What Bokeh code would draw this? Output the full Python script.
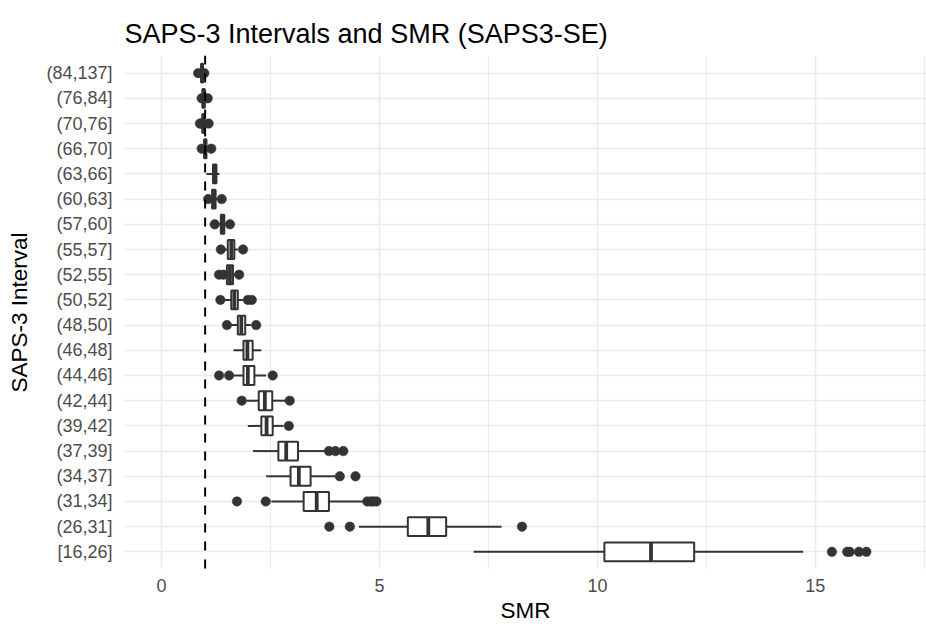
from bokeh.plotting import figure
from bokeh.models import ColumnDataSource, FactorRange, Range1d, Span, FixedTicker
from bokeh.embed import file_html
from bokeh.resources import INLINE

# Categories, top to bottom as shown
intervals = ["(84,137]", "(76,84]", "(70,76]", "(66,70]", "(63,66]", "(60,63]",
             "(57,60]", "(55,57]", "(52,55]", "(50,52]", "(48,50]", "(46,48]",
             "(44,46]", "(42,44]", "(39,42]", "(37,39]", "(34,37]", "(31,34]",
             "(26,31]", "[16,26]"]

lower_whisker = [0.89, 0.93, 0.92, 0.95, 1.03, 1.12, 1.30, 1.45, 1.45, 1.45,
                 1.60, 1.65, 1.65, 1.95, 1.98, 2.10, 2.40, 2.52, 4.53, 7.16]
q1 = [0.91, 0.94, 0.94, 0.98, 1.18, 1.16, 1.36, 1.52, 1.50, 1.60,
      1.75, 1.88, 1.88, 2.23, 2.29, 2.68, 2.96, 3.26, 5.65, 10.16]
median = [0.93, 0.965, 0.96, 1.00, 1.22, 1.20, 1.40, 1.60, 1.57, 1.67,
          1.83, 1.97, 1.98, 2.37, 2.41, 2.86, 3.15, 3.56, 6.12, 11.23]
q3 = [0.95, 0.99, 0.99, 1.03, 1.26, 1.24, 1.44, 1.67, 1.64, 1.75,
      1.92, 2.09, 2.13, 2.54, 2.55, 3.13, 3.42, 3.84, 6.53, 12.22]
upper_whisker = [0.96, 1.01, 1.03, 1.08, 1.33, 1.30, 1.50, 1.75, 1.70, 1.88,
                 2.05, 2.29, 2.40, 2.85, 2.80, 3.76, 3.99, 4.64, 7.80, 14.72]

outlier_interval = ["(84,137]", "(84,137]",
                    "(76,84]", "(76,84]",
                    "(70,76]", "(70,76]", "(70,76]",
                    "(66,70]", "(66,70]",
                    "(60,63]", "(60,63]",
                    "(57,60]", "(57,60]",
                    "(55,57]", "(55,57]",
                    "(52,55]", "(52,55]", "(52,55]",
                    "(50,52]", "(50,52]", "(50,52]",
                    "(48,50]", "(48,50]",
                    "(44,46]", "(44,46]", "(44,46]",
                    "(42,44]", "(42,44]",
                    "(39,42]",
                    "(37,39]", "(37,39]", "(37,39]",
                    "(34,37]", "(34,37]",
                    "(31,34]", "(31,34]", "(31,34]", "(31,34]", "(31,34]", "(31,34]",
                    "(26,31]", "(26,31]", "(26,31]",
                    "[16,26]", "[16,26]", "[16,26]", "[16,26]", "[16,26]"]
outlier_smr = [0.84, 0.98,
               0.92, 1.06,
               0.88, 0.91, 1.08,
               0.92, 1.14,
               1.07, 1.38,
               1.22, 1.57,
               1.36, 1.87,
               1.32, 1.42, 1.78,
               1.35, 1.98, 2.07,
               1.50, 2.17,
               1.32, 1.55, 2.55,
               1.84, 2.94,
               2.92,
               3.84, 3.99, 4.17,
               4.09, 4.45,
               1.73, 2.39, 4.72, 4.80, 4.86, 4.93,
               3.85, 4.32, 8.27,
               15.38, 15.73, 15.79, 16.00, 16.17]

reference_smr = 1.0
x_ticks = [0, 5, 10, 15]
x_minor_ticks = [2.5, 7.5, 12.5, 17.5]

FONT = "Liberation Sans"
DARK = "#333333"
GRID = "#EBEBEB"

box_src = ColumnDataSource(dict(interval=intervals, lw=lower_whisker, q1=q1,
                                med=median, q3=q3, uw=upper_whisker))
out_src = ColumnDataSource(dict(interval=outlier_interval, smr=outlier_smr))

y_range = FactorRange(factors=list(reversed(intervals)),
                      range_padding=0.2, range_padding_units="absolute")

p = figure(width=926, height=628, output_backend="svg", toolbar_location=None,
           x_range=Range1d(-0.85, 17.55), y_range=y_range,
           min_border_left=124, min_border_right=0, min_border_top=55,
           min_border_bottom=59, background_fill_color="white",
           border_fill_color="white")
p.outline_line_color = None

# whiskers
p.segment(x0="lw", y0="interval", x1="q1", y1="interval", source=box_src,
          line_color=DARK, line_width=2)
p.segment(x0="q3", y0="interval", x1="uw", y1="interval", source=box_src,
          line_color=DARK, line_width=2)
# boxes
p.hbar(y="interval", left="q1", right="q3", height=0.75, source=box_src,
       fill_color="white", line_color=DARK, line_width=2)
# medians
p.rect(x="med", y="interval", width=3.8, width_units="screen", height=0.75,
       source=box_src, fill_color=DARK, line_color=None)
# outliers
p.scatter(x="smr", y="interval", source=out_src, size=9.5,
          fill_color=DARK, line_color=DARK, line_width=0.5)

vline = Span(location=reference_smr, dimension="height", line_color="black",
             line_width=2, line_dash="9 9")
p.add_layout(vline)

# title
p.title.text = "SAPS-3 Intervals and SMR (SAPS3-SE)"
p.title.text_font = FONT
p.title.text_font_size = "27px"
p.title.text_font_style = "normal"
p.title.text_color = "black"
p.title.align = "left"
p.title.standoff = 14

# axes
p.xaxis.ticker = FixedTicker(ticks=x_ticks, minor_ticks=x_minor_ticks)
p.xaxis.axis_label = "SMR"
p.yaxis.axis_label = "SAPS-3 Interval"
for ax in (p.xaxis, p.yaxis):
    ax.axis_line_color = None
    ax.major_tick_line_color = None
    ax.minor_tick_line_color = None
    ax.major_tick_out = 0
    ax.minor_tick_out = 0
    ax.major_label_text_font = FONT
    ax.major_label_text_font_size = "18px"
    ax.major_label_text_color = "#4D4D4D"
    ax.axis_label_text_font = FONT
    ax.axis_label_text_font_size = "22.5px"
    ax.axis_label_text_font_style = "normal"
    ax.axis_label_text_color = "black"
p.xaxis.major_label_standoff = 9
p.xaxis.axis_label_standoff = 3
p.yaxis.major_label_standoff = 12
p.yaxis.axis_label_standoff = 11

# grid
p.xgrid.grid_line_color = GRID
p.xgrid.grid_line_width = 1.6
p.xgrid.minor_grid_line_color = GRID
p.xgrid.minor_grid_line_width = 1.2
p.ygrid.grid_line_color = GRID
p.ygrid.grid_line_width = 1.6

open("out.html", "w").write(file_html(p, INLINE))
